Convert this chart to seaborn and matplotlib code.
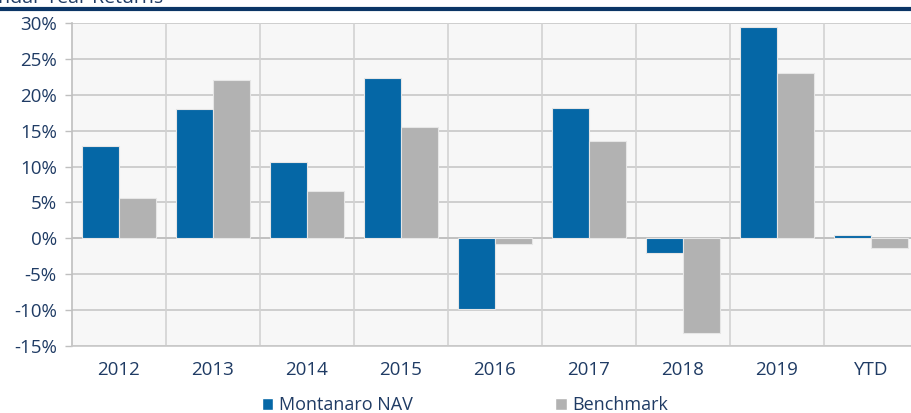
import numpy as np
import pandas as pd
import seaborn as sns
import matplotlib
matplotlib.use('Agg')
import matplotlib.pyplot as plt
from matplotlib.ticker import MultipleLocator, FuncFormatter
from matplotlib.patches import Patch

PERIODS = ['2012', '2013', '2014', '2015', '2016', '2017', '2018', '2019', 'YTD']
NAV = [12.8, 18.0, 10.6, 22.3, -9.9, 18.1, -2.1, 29.4, 0.4]
BENCHMARK = [5.6, 22.0, 6.6, 15.5, -0.8, 13.5, -13.2, 23.1, -1.4]
SERIES = ['Montanaro NAV', 'Benchmark']

BLUE = '#0567a6'
GREY = '#b2b2b2'
NAVY = '#1f3b64'

df = pd.DataFrame({
    'period': PERIODS * 2,
    'series': [SERIES[0]] * len(PERIODS) + [SERIES[1]] * len(PERIODS),
    'value': NAV + BENCHMARK,
})

sns.set_style('white')
plt.rcParams['font.family'] = ['Open Sans', 'DejaVu Sans']

fig = plt.figure(figsize=(9.12, 4.13), dpi=100)
ax = fig.add_axes([72 / 912, 1 - 346 / 413, 846 / 912, 323 / 413])
ax.set_facecolor('#f7f7f7')

sns.barplot(data=df, x='period', y='value', hue='series', order=PERIODS,
            hue_order=SERIES, palette=[BLUE, GREY], width=0.78, saturation=1,
            edgecolor='#e6e6e6', linewidth=0.8, legend=False, ax=ax, zorder=3)

ax.set_ylim(-15, 30)
ax.set_xlim(-0.5, len(PERIODS) - 0.5)
ax.yaxis.set_major_locator(MultipleLocator(5))
ax.yaxis.set_major_formatter(FuncFormatter(lambda v, _: f'{v:.0f}%'))
ax.grid(axis='y', color='#c8c8c8', linewidth=1.2, zorder=0)
for b in np.arange(0.5, len(PERIODS) - 0.5, 1):
    ax.axvline(b, color='#d2d2d2', linewidth=1.2, zorder=1)
ax.axhline(0, color='#bfbfbf', linewidth=1.2, zorder=2)
ax.set_axisbelow(True)

for side in ['top', 'right']:
    ax.spines[side].set_visible(False)
ax.spines['left'].set_color('#bfbfbf')
ax.spines['bottom'].set_color('#c8c8c8')
ax.spines['left'].set_linewidth(1.2)
ax.spines['bottom'].set_linewidth(1.2)

ax.tick_params(axis='y', length=5, width=1, color='#bfbfbf', labelsize=13.5,
               labelcolor=NAVY, pad=6, left=True)
ax.tick_params(axis='x', length=0, labelsize=13.5, labelcolor=NAVY, pad=11)
ax.set_xlabel('')
ax.set_ylabel('')

# header rule and title (cropped at the top edge as in the source)
fig.add_artist(plt.Line2D([0, 1], [1 - 9 / 413, 1 - 9 / 413], color='#0b3566',
                          linewidth=3, transform=fig.transFigure))
fig.text(-0.045, 1 - 3 / 413, 'Calendar Year Returns', fontsize=14, color=NAVY,
         va='baseline', ha='left')

handles = [Patch(facecolor=BLUE, label=SERIES[0]),
           Patch(facecolor=GREY, label=SERIES[1])]
fig.legend(handles=handles, loc='center', ncol=2,
           bbox_to_anchor=(465 / 912, 1 - 405 / 413), frameon=False,
           fontsize=13, labelcolor=NAVY, handlelength=0.65, handleheight=0.65,
           handletextpad=0.3, columnspacing=7.9)

fig.savefig('out.png', dpi=100)
